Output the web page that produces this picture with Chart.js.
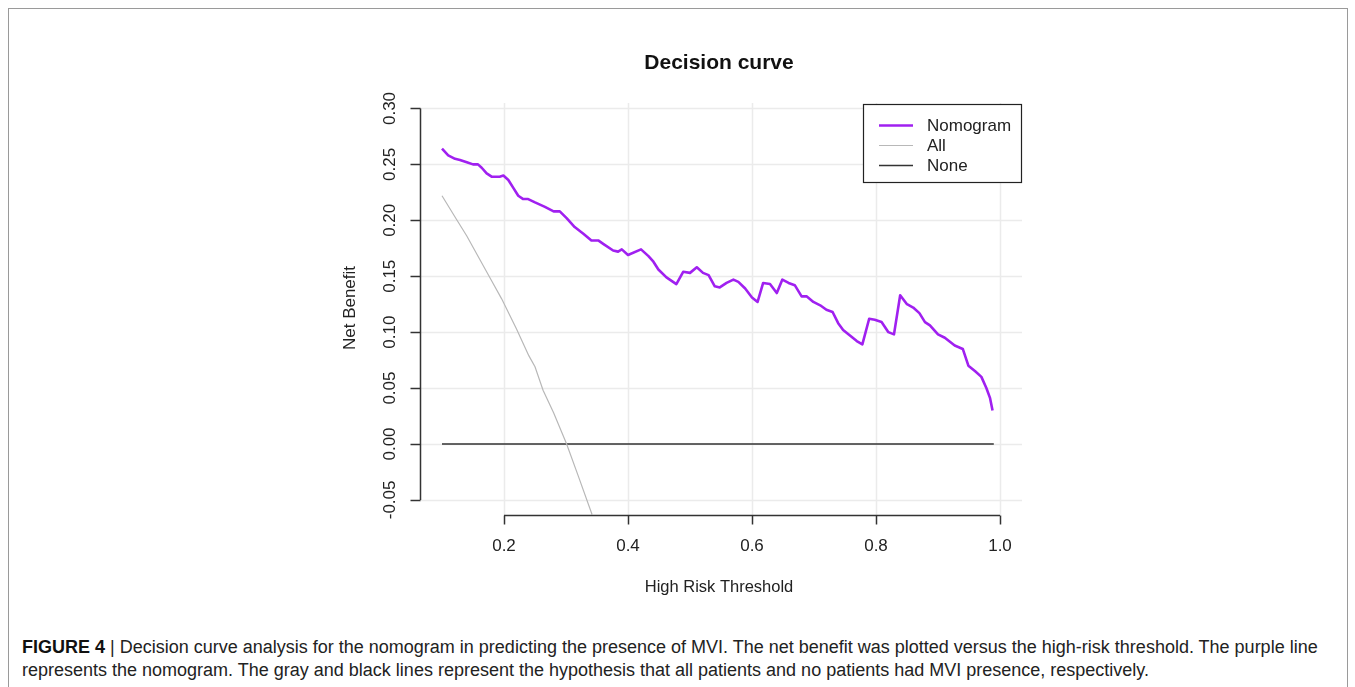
<!DOCTYPE html>
<html>
<head>
<meta charset="utf-8">
<script src="https://cdn.jsdelivr.net/npm/chart.js@4.4.0/dist/chart.umd.min.js"></script>
<style>
  html, body { margin: 0; padding: 0; background: #fff; }
  body { width: 1355px; height: 687px; position: relative; overflow: hidden; font-family: "Liberation Sans", Arial, sans-serif; }
  #frame { position: absolute; left: 8px; top: 8px; width: 1340px; height: 700px; border: 1.5px solid #9a9a9a; box-sizing: border-box; }
  #chart { position: absolute; left: 0; top: 0; }
  #caption { position: absolute; left: 22px; top: 636px; width: 1325px; font-size: 18px; line-height: 23px; color: #222; white-space: nowrap; }
  #caption b { color: #111; }
</style>
</head>
<body>
<div id="frame"></div>
<canvas id="chart" width="1355" height="600"></canvas>
<div id="caption"><b>FIGURE 4</b> | Decision curve analysis for the nomogram in predicting the presence of MVI. The net benefit was plotted versus the high-risk threshold. The purple line<br>represents the nomogram. The gray and black lines represent the hypothesis that all patients and no patients had MVI presence, respectively.</div>
<script>
// ---- data ----
const nomoX = [0.100,0.110,0.121,0.129,0.140,0.150,0.158,0.164,0.172,0.180,0.193,0.199,0.207,0.215,0.223,0.231,0.239,0.250,0.266,0.280,0.290,0.301,0.314,0.328,0.341,0.352,0.360,0.376,0.384,0.390,0.400,0.421,0.433,0.441,0.449,0.462,0.478,0.489,0.500,0.511,0.521,0.530,0.540,0.548,0.559,0.570,0.578,0.589,0.600,0.609,0.618,0.629,0.640,0.649,0.659,0.669,0.680,0.688,0.699,0.710,0.720,0.730,0.739,0.747,0.758,0.769,0.778,0.789,0.798,0.809,0.820,0.829,0.839,0.850,0.860,0.870,0.879,0.887,0.900,0.911,0.927,0.940,0.949,0.960,0.970,0.978,0.984,0.988];
const nomoY = [0.264,0.258,0.255,0.254,0.252,0.250,0.250,0.247,0.242,0.239,0.239,0.240,0.236,0.229,0.222,0.219,0.219,0.216,0.212,0.208,0.208,0.202,0.194,0.188,0.182,0.182,0.179,0.173,0.172,0.174,0.169,0.174,0.168,0.163,0.156,0.149,0.143,0.154,0.153,0.158,0.153,0.151,0.141,0.140,0.144,0.147,0.145,0.139,0.131,0.127,0.144,0.143,0.135,0.147,0.144,0.142,0.132,0.132,0.127,0.124,0.120,0.118,0.108,0.102,0.097,0.092,0.089,0.112,0.111,0.109,0.100,0.098,0.133,0.125,0.122,0.117,0.109,0.106,0.098,0.095,0.088,0.085,0.070,0.065,0.060,0.050,0.041,0.030];
const allX = [0.100,0.121,0.140,0.161,0.180,0.196,0.220,0.240,0.250,0.263,0.280,0.301,0.320,0.342];
const allY = [0.222,0.203,0.186,0.165,0.146,0.130,0.103,0.079,0.069,0.048,0.028,0.000,-0.029,-0.063];
const noneX = [0.10, 0.99];
const noneY = [0.00, 0.00];
const xTicks = [0.2, 0.4, 0.6, 0.8, 1.0];
const xTickLabels = ["0.2", "0.4", "0.6", "0.8", "1.0"];
const yTicks = [-0.05, 0.00, 0.05, 0.10, 0.15, 0.20, 0.25, 0.30];
const yTickLabels = ["-0.05", "0.00", "0.05", "0.10", "0.15", "0.20", "0.25", "0.30"];
const seriesNames = ["Nomogram", "All", "None"];
const titleText = "Decision curve";
const xTitle = "High Risk Threshold";
const yTitle = "Net Benefit";

const toPts = (xs, ys) => xs.map((x, i) => ({x: x, y: ys[i]}));
const colors = ["#a020f0", "#b8b8b8", "#333333"];
const widths = [2.6, 1.2, 1.5];
const FONT = '"Liberation Sans", Arial, sans-serif';

const rStyle = {
  id: 'rStyle',
  beforeDatasetsDraw(chart) {
    const ctx = chart.ctx, a = chart.chartArea;
    const xs = chart.scales.x, ys = chart.scales.y;
    ctx.save();
    ctx.strokeStyle = '#ebebeb';
    ctx.lineWidth = 1.5;
    yTicks.forEach(v => {
      const py = Math.round(ys.getPixelForValue(v)) + 0.5;
      ctx.beginPath(); ctx.moveTo(a.left, py); ctx.lineTo(a.right, py); ctx.stroke();
    });
    xTicks.forEach(v => {
      const px = Math.round(xs.getPixelForValue(v)) + 0.5;
      ctx.beginPath(); ctx.moveTo(px, a.top); ctx.lineTo(px, a.bottom); ctx.stroke();
    });
    ctx.restore();
  },
  afterDraw(chart) {
    const ctx = chart.ctx, a = chart.chartArea;
    const xs = chart.scales.x, ys = chart.scales.y;
    ctx.save();
    ctx.strokeStyle = '#333';
    ctx.lineWidth = 1.5;
    // y axis
    const axX = Math.round(a.left) + 0.5;
    const y0 = ys.getPixelForValue(yTicks[0]), y1 = ys.getPixelForValue(yTicks[yTicks.length - 1]);
    ctx.beginPath(); ctx.moveTo(axX, y0); ctx.lineTo(axX, y1); ctx.stroke();
    yTicks.forEach(v => {
      const py = Math.round(ys.getPixelForValue(v)) + 0.5;
      ctx.beginPath(); ctx.moveTo(axX, py); ctx.lineTo(axX - 10, py); ctx.stroke();
    });
    // x axis
    const axY = Math.round(a.bottom) + 0.5;
    const x0 = xs.getPixelForValue(xTicks[0]), x1 = xs.getPixelForValue(xTicks[xTicks.length - 1]);
    ctx.beginPath(); ctx.moveTo(x0, axY); ctx.lineTo(x1, axY); ctx.stroke();
    xTicks.forEach(v => {
      const px = Math.round(xs.getPixelForValue(v)) + 0.5;
      ctx.beginPath(); ctx.moveTo(px, axY); ctx.lineTo(px, axY + 9); ctx.stroke();
    });
    // tick labels
    ctx.fillStyle = '#222';
    ctx.font = '17px ' + FONT;
    ctx.textAlign = 'center'; ctx.textBaseline = 'middle';
    xTicks.forEach((v, i) => ctx.fillText(xTickLabels[i], xs.getPixelForValue(v), 546));
    yTicks.forEach((v, i) => {
      ctx.save();
      ctx.translate(390, ys.getPixelForValue(v));
      ctx.rotate(-Math.PI / 2);
      ctx.fillText(yTickLabels[i], 0, 0);
      ctx.restore();
    });
    // axis titles
    ctx.font = '16.5px ' + FONT;
    ctx.fillText(xTitle, 719, 587);
    ctx.font = '17px ' + FONT;
    ctx.save(); ctx.translate(350, 308); ctx.rotate(-Math.PI / 2); ctx.fillText(yTitle, 0, 0); ctx.restore();
    // main title
    ctx.font = 'bold 21px ' + FONT;
    ctx.fillStyle = '#111';
    ctx.fillText(titleText, 719, 63);
    // legend
    ctx.fillStyle = '#fff';
    ctx.fillRect(863, 104, 159, 79);
    ctx.strokeStyle = '#222'; ctx.lineWidth = 1.2;
    ctx.strokeRect(863.5, 104.5, 158, 78);
    ctx.font = '17px ' + FONT;
    ctx.textAlign = 'left';
    seriesNames.forEach((n, i) => {
      const ly = 125 + i * 20;
      ctx.strokeStyle = colors[i]; ctx.lineWidth = widths[i];
      ctx.beginPath(); ctx.moveTo(879, ly + 0.5); ctx.lineTo(913, ly + 0.5); ctx.stroke();
      ctx.fillStyle = '#222';
      ctx.fillText(n, 927, ly + 1);
    });
    ctx.restore();
  }
};

new Chart(document.getElementById('chart'), {
  type: 'line',
  data: {
    datasets: [
      { label: seriesNames[0], data: toPts(nomoX, nomoY), borderColor: colors[0], borderWidth: widths[0], pointRadius: 0, tension: 0, fill: false, borderJoinStyle: 'round' },
      { label: seriesNames[1], data: toPts(allX, allY), borderColor: colors[1], borderWidth: widths[1], pointRadius: 0, tension: 0, fill: false },
      { label: seriesNames[2], data: toPts(noneX, noneY), borderColor: colors[2], borderWidth: widths[2], pointRadius: 0, tension: 0, fill: false }
    ]
  },
  options: {
    responsive: false,
    animation: false,
    devicePixelRatio: 1,
    layout: { padding: { left: 419.5, right: 333, top: 103, bottom: 85 } },
    plugins: { legend: { display: false }, title: { display: false }, tooltip: { enabled: false } },
    scales: {
      x: { type: 'linear', display: false, min: 0.0637, max: 1.0355 },
      y: { type: 'linear', display: false, min: -0.0635, max: 0.3049 }
    }
  },
  plugins: [rStyle]
});
</script>
</body>
</html>
